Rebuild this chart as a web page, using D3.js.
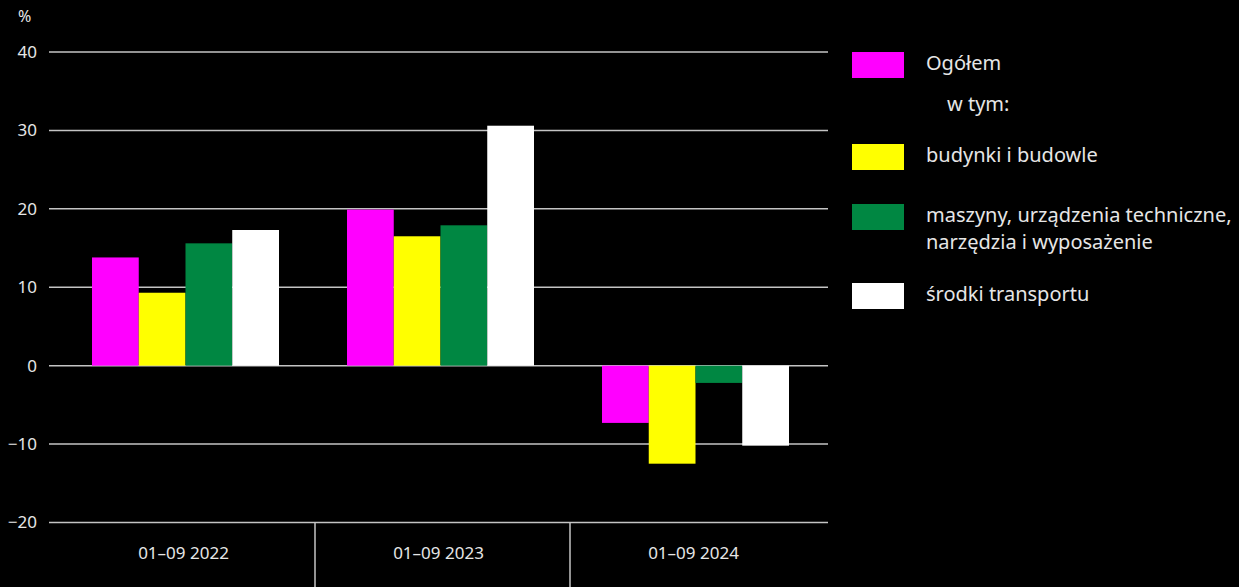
<!DOCTYPE html>
<html>
<head>
<meta charset="utf-8">
<script src="https://cdn.jsdelivr.net/npm/d3@7"></script>
<style>
  body { margin: 0; background: #000; }
  svg { display: block; font-family: "Noto Sans", sans-serif; }
</style>
</head>
<body>
<svg id="chart" width="1239" height="587"></svg>
<script>
const periods = ["01–09 2022", "01–09 2023", "01–09 2024"];
const seriesNames = ["Ogółem", "budynki i budowle", "maszyny, urządzenia techniczne, narzędzia i wyposażenie", "środki transportu"];
const ogolem = [13.8, 19.9, -7.3];
const budynki = [9.3, 16.5, -12.5];
const maszyny = [15.6, 17.9, -2.2];
const transport = [17.3, 30.6, -10.2];
const yTicks = [-20, -10, 0, 10, 20, 30, 40];
const colors = ["#ff00ff", "#ffff00", "#008742", "#ffffff"];

const svg = d3.select("#chart");
const allSeries = [ogolem, budynki, maszyny, transport];

const y = d3.scaleLinear().domain([-20, 40]).range([522.5, 52]);
const plotLeft = 49, plotRight = 828;

// groups of bars
const x0 = d3.scaleBand().domain(periods).range([58, 823]);
const x1 = d3.scaleBand().domain(d3.range(4)).range([0, 187]);

// grid lines
svg.append("g")
  .selectAll("line")
  .data(yTicks)
  .join("line")
  .attr("x1", plotLeft).attr("x2", plotRight)
  .attr("y1", d => y(d)).attr("y2", d => y(d))
  .attr("stroke", "#c4c4c4")
  .attr("stroke-width", 1.5);

// y labels
svg.append("g")
  .selectAll("text")
  .data(yTicks)
  .join("text")
  .attr("x", 37)
  .attr("y", d => y(d))
  .attr("dy", "0.35em")
  .attr("text-anchor", "end")
  .attr("fill", "#e6e6e6")
  .attr("font-size", 17)
  .text(d => d < 0 ? "−" + Math.abs(d) : d);

svg.append("text")
  .attr("x", 18).attr("y", 22)
  .attr("fill", "#e6e6e6")
  .attr("font-size", 16)
  .text("%");

// bars
const groups = svg.append("g")
  .selectAll("g")
  .data(periods)
  .join("g")
  .attr("transform", p => `translate(${x0(p) + (x0.bandwidth() - 187) / 2},0)`);

groups.selectAll("rect")
  .data((p, i) => allSeries.map((s, k) => ({k, value: s[i]})))
  .join("rect")
  .attr("x", d => x1(d.k))
  .attr("width", x1.bandwidth())
  .attr("y", d => y(Math.max(0, d.value)))
  .attr("height", d => Math.abs(y(d.value) - y(0)))
  .attr("fill", d => colors[d.k]);

// category separators and labels
svg.append("g")
  .selectAll("line")
  .data(periods.slice(1))
  .join("line")
  .attr("x1", p => x0(p) + 2).attr("x2", p => x0(p) + 2)
  .attr("y1", y(-20)).attr("y2", 587)
  .attr("stroke", "#c4c4c4")
  .attr("stroke-width", 1.5);

svg.append("g")
  .selectAll("text")
  .data(periods)
  .join("text")
  .attr("x", p => x0(p) + x0.bandwidth() / 2 - 2)
  .attr("y", 553)
  .attr("dy", "0.35em")
  .attr("text-anchor", "middle")
  .attr("fill", "#e6e6e6")
  .attr("font-size", 17)
  .text(p => p);

// legend
const legendRows = [
  {k: 0, y: 52, lines: [seriesNames[0]]},
  {k: 1, y: 144, lines: [seriesNames[1]]},
  {k: 2, y: 204, lines: ["maszyny, urządzenia techniczne,", "narzędzia i wyposażenie"]},
  {k: 3, y: 283, lines: [seriesNames[3]]}
];
const legend = svg.append("g");
legend.selectAll("rect")
  .data(legendRows)
  .join("rect")
  .attr("x", 852).attr("y", d => d.y)
  .attr("width", 52).attr("height", 26)
  .attr("fill", d => colors[d.k]);

legend.selectAll("text.item")
  .data(legendRows)
  .join("text")
  .attr("class", "item")
  .attr("x", 926)
  .attr("y", d => d.y + 11)
  .attr("fill", "#e6e6e6")
  .attr("font-size", 20)
  .each(function(d) {
    d3.select(this).selectAll("tspan")
      .data(d.lines)
      .join("tspan")
      .attr("x", 926)
      .attr("dy", (l, i) => i === 0 ? "0.35em" : "1.35em")
      .text(l => l);
  });

legend.append("text")
  .attr("x", 947).attr("y", 104)
  .attr("dy", "0.35em")
  .attr("fill", "#e6e6e6")
  .attr("font-size", 20)
  .text("w tym:");
</script>
</body>
</html>
